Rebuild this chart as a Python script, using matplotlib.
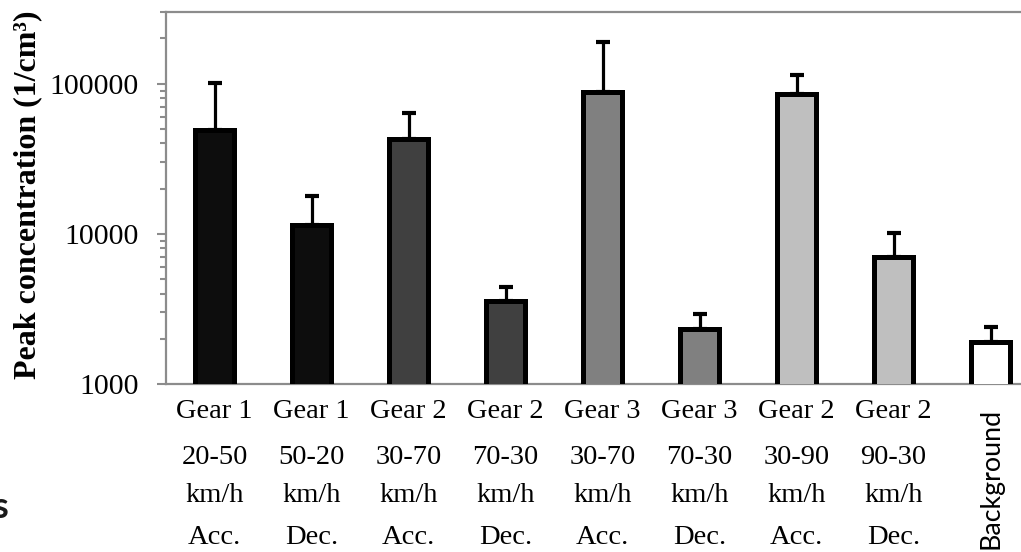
import matplotlib

matplotlib.use("Agg")
import matplotlib.pyplot as plt
import matplotlib.transforms as mtransforms
import numpy as np

# peak particle number concentration per driving condition (1/cm^3)
gears = ["Gear 1", "Gear 1", "Gear 2", "Gear 2", "Gear 3", "Gear 3", "Gear 2", "Gear 2"]
speeds = ["20-50", "50-20", "30-70", "70-30", "30-70", "70-30", "30-90", "90-30"]
modes = ["Acc.", "Dec.", "Acc.", "Dec.", "Acc.", "Dec.", "Acc.", "Dec."]
background_label = "Background"
peak = [49000, 11400, 42800, 3550, 88000, 2340, 85800, 7050, 1910]
peak_err = [52000, 6400, 21000, 900, 102000, 580, 29200, 3110, 480]
fills = ["#0d0d0d", "#0d0d0d", "#404040", "#404040", "#808080", "#808080",
         "#bfbfbf", "#bfbfbf", "#ffffff"]

SERIF = "Liberation Serif"
GRAY = "#8c8c8c"

fig = plt.figure(figsize=(10.21, 5.52), dpi=100)
ax = fig.add_axes([166 / 1021, 1 - 384 / 552, 873 / 1021, 372 / 552])

x = np.arange(len(peak))
ax.bar(x, peak, width=0.40, color=fills, edgecolor="black", linewidth=3.6,
       zorder=3)
ax.errorbar(x, peak, yerr=[np.zeros(len(peak)), peak_err], fmt="none",
            ecolor="black", elinewidth=2.3, capsize=4.7, capthick=3.0,
            zorder=2)

ax.set_yscale("log")
ax.set_ylim(1000, 300000)
ax.set_xlim(-0.5, len(peak) - 0.5)
ax.set_yticks([1000, 10000, 100000])
ax.set_yticklabels(["1000", "10000", "100000"], fontfamily=SERIF, fontsize=21.5)
ax.yaxis.set_minor_formatter(matplotlib.ticker.NullFormatter())
ax.tick_params(axis="y", which="major", length=6.5, width=1.5, color=GRAY,
               pad=13)
ax.tick_params(axis="y", which="minor", length=4.5, width=1.5, color=GRAY)
ax.set_xticks([])

for side in ("left", "top", "bottom", "right"):
    ax.spines[side].set_color(GRAY)
    ax.spines[side].set_linewidth(1.6)

fig.text(28 / 1021, 1 - 195 / 552, "Peak concentration (1/cm³)",
         rotation=90, ha="center", va="center", fontfamily=SERIF,
         fontweight="bold", fontsize=23)

# category labels below the axis, one row per line
trans = mtransforms.blended_transform_factory(ax.transData, fig.transFigure)
rows = [(gears, 412), (speeds, 458), (["km/h"] * len(gears), 496), (modes, 538)]
for labels, ypix in rows:
    for xi, label in zip(x, labels):
        ax.text(xi, 1 - ypix / 552, label, transform=trans, ha="center",
                va="center", fontfamily=SERIF, fontsize=20.5, clip_on=False)
ax.text(x[-1], 1 - 478 / 552, background_label, transform=trans, ha="center",
        va="center", rotation=90, fontfamily="Lato", fontsize=19.3,
        clip_on=False)

fig.text(8 / 1021, 1 - 508 / 552, "s", ha="right", va="center",
         fontfamily="Lato", fontweight="bold", fontsize=26, color="#1a1a1a")

fig.savefig("out.png", dpi=100)
